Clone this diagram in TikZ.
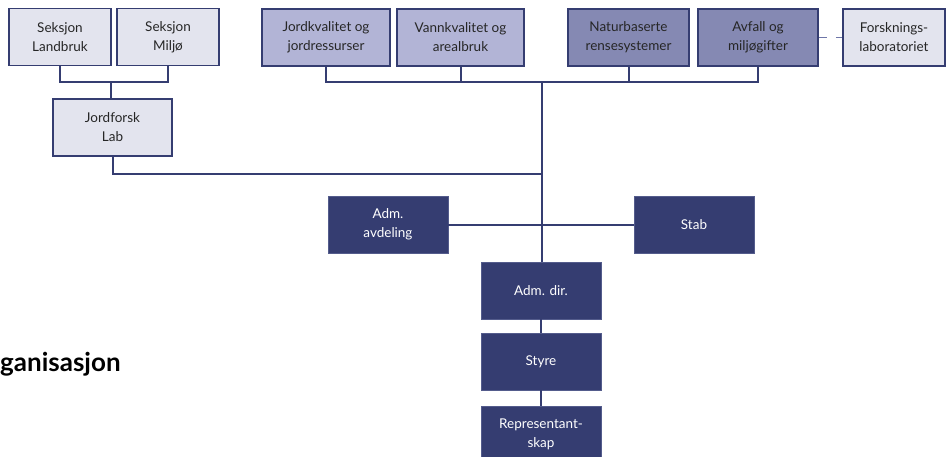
\documentclass[tikz,border=0pt]{standalone}
\usepackage{fontspec}
\setmainfont{Lato}
\definecolor{navy}{RGB}{53,61,113}
\definecolor{navyedge}{RGB}{84,92,140}
\definecolor{greyblue}{RGB}{227,228,238}
\definecolor{paleblue}{RGB}{178,180,214}
\definecolor{midblue}{RGB}{133,137,179}
\definecolor{dashblue}{RGB}{110,118,168}
\begin{document}
\begin{tikzpicture}[x=1pt,y=-1pt,
    box/.style = {minimum height=57pt,align=center,inner sep=0pt,
                  font=\fontsize{13.5}{19}\selectfont},
    greybox/.style = {box,draw=navy,line width=1.8pt,fill=greyblue,text=black!85},
    palebox/.style = {greybox,fill=paleblue},
    midbox/.style = {greybox,fill=midblue},
    navybox/.style = {box,draw=navyedge,line width=0.8pt,fill=navy,text=white},
    link/.style = {navy,line width=2pt}]
    \clip (0,0) rectangle (946,456);

    % research sections
    \node[greybox,minimum width=102pt] (landbruk) at (60,37) {Seksjon\\Landbruk};
    \node[greybox,minimum width=102pt] (miljo) at (168,37) {Seksjon\\Milj\o};
    \node[greybox,minimum width=119pt] (lab) at (112.5,127.5) {Jordforsk\\Lab};
    \node[palebox,minimum width=128pt] (jord) at (326,37.5) {Jordkvalitet og\\jordressurser};
    \node[palebox,minimum width=127pt] (vann) at (460.5,37.5) {Vannkvalitet og\\arealbruk};
    \node[midbox,minimum width=121pt] (natur) at (628.5,37.5) {Naturbaserte\\rensesystemer};
    \node[midbox,minimum width=120pt] (avfall) at (758,37.5) {Avfall og\\milj\o gifter};
    \node[greybox,minimum width=102pt] (forsk) at (894,37.5) {Forsknings-\\laboratoriet};

    % administration
    \node[navybox,minimum width=120pt] (admavd) at (388,224.5) {Adm.\\avdeling};
    \node[navybox,minimum width=120pt] (stab) at (694,224.5) {Stab};
    \node[navybox,minimum width=120pt] (admdir) at (541,290.5) {Adm. dir.};
    \node[navybox,minimum width=120pt] (styre) at (541,361.5) {Styre};
    \node[navybox,minimum width=120pt] (rep) at (541,434.5) {Representant-\\skap};

    \node[anchor=west,inner sep=0pt,font=\fontsize{26}{30}\selectfont\bfseries]
        (tittel) at (0,364) {ganisasjon};

    \coordinate (top) at (542,82);

    \draw[link] (landbruk.south) |- (111,82) -| (miljo.south);
    \draw[link] (111,82) -- (111,99);
    \draw[link] (jord.south) |- (top) -| (avfall.south);
    \draw[link] (vann.south) -- ++(0,16.5);
    \draw[link] (natur.south) -- ++(0,16.5);
    \draw[link] (top) -- (542,262);
    \draw[link] (lab.south) |- (542,174);
    \draw[link] (admavd.east) -- (stab.west);
    \draw[link] (admdir.south) -- (styre.north);
    \draw[link] (styre.south) -- (rep.north);
    \draw[dashblue,line width=1.5pt,dash pattern=on 8pt off 9pt] (avfall.east) -- (forsk.west);
\end{tikzpicture}
\end{document}
